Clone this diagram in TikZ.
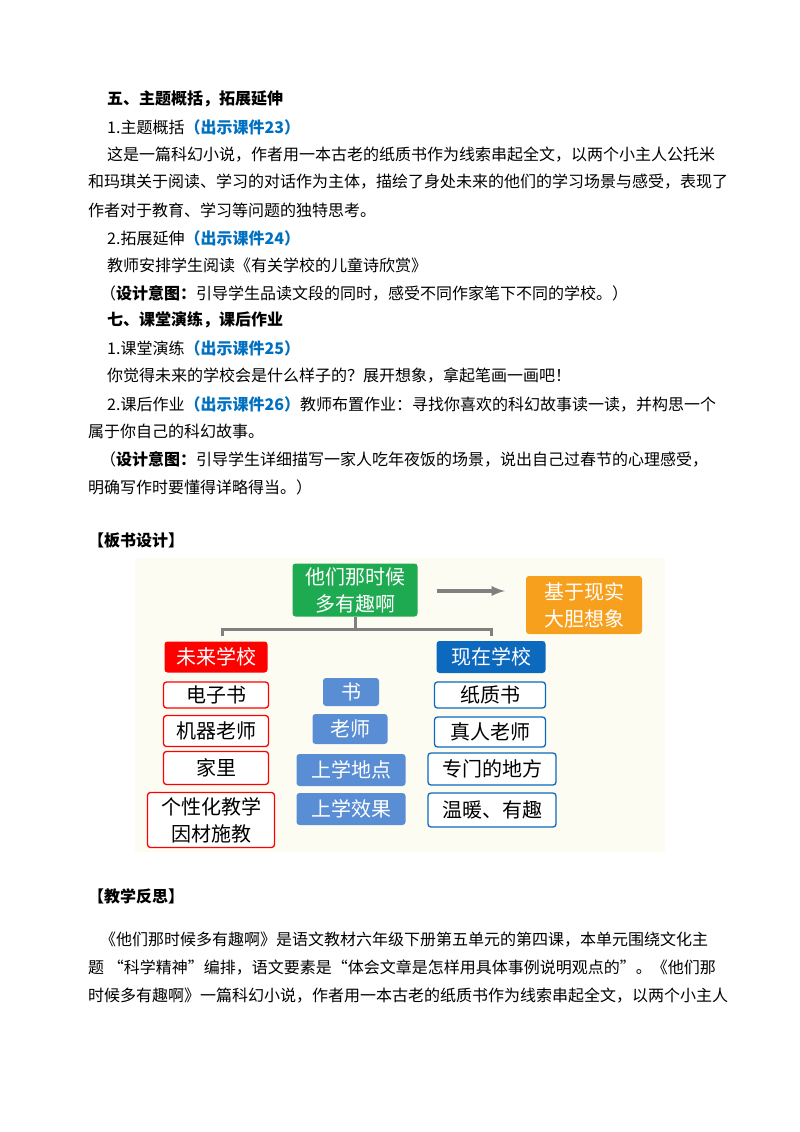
\documentclass[tikz,border=0pt]{standalone}
\usepackage{fontspec}
\setmainfont{Noto Sans CJK SC}
\usetikzlibrary{positioning}
\definecolor{kjblue}{RGB}{0,112,192}
\definecolor{bggray}{RGB}{252,252,243}
\definecolor{bdgreen}{RGB}{30,170,80}
\definecolor{bdorange}{RGB}{247,160,30}
\definecolor{bdred}{RGB}{255,0,0}
\definecolor{bdblue}{RGB}{12,105,190}
\definecolor{bdmid}{RGB}{90,142,212}
\newcommand{\kj}[1]{{\color{kjblue}\bfseries #1}}
\tikzset{
  txt/.style={anchor=west,inner sep=0pt,font=\fontsize{16}{18}\selectfont},
  hd/.style={txt,font=\fontsize{16}{18}\selectfont\bfseries},
  bdbox/.style={rounded corners=3pt,inner sep=0pt,align=center,font=\fontsize{20}{27}\selectfont},
  redbox/.style={bdbox,draw=bdred,line width=1.3pt,fill=white},
  bluebox/.style={bdbox,draw=bdblue,line width=1.3pt,fill=white},
  midbox/.style={bdbox,fill=bdmid,text=white},
}
\begin{document}
\begin{tikzpicture}[x=1pt,y=-1pt]
\useasboundingbox (0,0) rectangle (800,1132);
\fill[white] (0,0) rectangle (800,1132);
% text above the board
\node[hd] (h5) at (107,99) {五、主题概括，拓展延伸};
\node[txt] (l1) at (107,127) {1.主题概括\kj{（出示课件23）}};
\node[txt] (l2) at (107,155) {这是一篇科幻小说，作者用一本古老的纸质书作为线索串起全文，以两个小主人公托米};
\node[txt] (l3) at (88,182) {和玛琪关于阅读、学习的对话作为主体，描绘了身处未来的他们的学习场景与感受，表现了};
\node[txt] (l4) at (88,210) {作者对于教育、学习等问题的独特思考。};
\node[txt] (l5) at (107,238) {2.拓展延伸\kj{（出示课件24）}};
\node[txt] (l6) at (107,265) {教师安排学生阅读《有关学校的儿童诗欣赏》};
\node[txt] (l7) at (100,293) {（\textbf{设计意图：}引导学生品读文段的同时，感受不同作家笔下不同的学校。）};
\node[hd] (h7) at (107,320) {七、课堂演练，课后作业};
\node[txt] (l8) at (107,348) {1.课堂演练\kj{（出示课件25）}};
\node[txt] (l9) at (107,375) {你觉得未来的学校会是什么样子的？展开想象，拿起笔画一画吧！};
\node[txt] (l10) at (107,404) {2.课后作业\kj{（出示课件26）}教师布置作业：寻找你喜欢的科幻故事读一读，并构思一个};
\node[txt] (l11) at (88,431) {属于你自己的科幻故事。};
\node[txt] (l12) at (100,459) {（\textbf{设计意图：}引导学生详细描写一家人吃年夜饭的场景，说出自己过春节的心理感受，};
\node[txt] (l13) at (88,487) {明确写作时要懂得详略得当。）};
\node[hd] (hb) at (88,540) {【板书设计】};
% the board
\fill[bggray] (135,558) rectangle (665,852);
\node[bdbox,fill=bdgreen,text=white,minimum width=125pt,minimum height=53pt] (top) at (355,590) {他们那时候\\多有趣啊};
\node[bdbox,fill=bdorange,text=white,minimum width=116pt,minimum height=58pt] (real) at (584,605) {基于现实\\大胆想象};
\draw[gray,line width=3.5pt,-latex] (top.east) ++(19,1) coordinate (a0) -- (505,591) coordinate (a1);
\node[bdbox,fill=bdred,text=white,minimum width=103pt,minimum height=31pt] (fut) at (216,657) {未来学校};
\node[bdbox,fill=bdblue,text=white,minimum width=109pt,minimum height=32pt] (now) at (491,657) {现在学校};
\coordinate (bl) at (222,629);
\coordinate (br) at (491,629);
\draw[gray,line width=3pt] (top.south) |- (bl) -- ++(0,7);
\draw[gray,line width=3pt] (top.south) |- (br) -- ++(0,7);
% left column
\node[redbox,minimum width=105pt,minimum height=26pt] (f1) at (216,695) {电子书};
\node[redbox,minimum width=105pt,minimum height=31pt] (f2) at (216,731) {机器老师};
\node[redbox,minimum width=105pt,minimum height=33pt] (f3) at (216,768) {家里};
\node[redbox,minimum width=127pt,minimum height=55pt] (f4) at (211,820) {个性化教学\\因材施教};
% middle column
\node[midbox,minimum width=56pt,minimum height=28pt] (m1) at (351,692) {书};
\node[midbox,minimum width=75pt,minimum height=30pt] (m2) at (350,729) {老师};
\node[midbox,minimum width=109pt,minimum height=32pt] (m3) at (351,770) {上学地点};
\node[midbox,minimum width=109pt,minimum height=32pt] (m4) at (351,809) {上学效果};
% right column
\node[bluebox,minimum width=111pt,minimum height=26pt] (n1) at (490,695) {纸质书};
\node[bluebox,minimum width=111pt,minimum height=30pt] (n2) at (490,732) {真人老师};
\node[bluebox,minimum width=128pt,minimum height=32pt] (n3) at (492,769) {专门的地方};
\node[bluebox,minimum width=128pt,minimum height=34pt] (n4) at (492,810) {温暖、有趣};
% text below the board
\node[hd] (hr) at (88,896) {【教学反思】};
\node[txt] (r1) at (100,940) {《他们那时候多有趣啊》是语文教材六年级下册第五单元的第四课，本单元围绕文化主};
\node[txt] (r2) at (88,968) {题 “科学精神”编排，语文要素是“体会文章是怎样用具体事例说明观点的”。《他们那};
\node[txt] (r3) at (88,996) {时候多有趣啊》一篇科幻小说，作者用一本古老的纸质书作为线索串起全文，以两个小主人};
\end{tikzpicture}
\end{document}
